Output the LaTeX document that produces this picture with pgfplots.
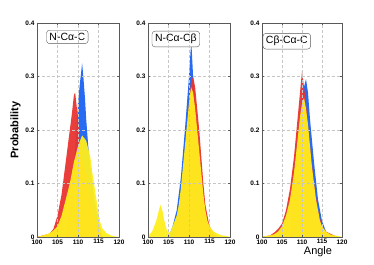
\documentclass[border=0pt]{standalone}
\usepackage{pgfplots}
\pgfplotsset{compat=1.18}
\usepackage{fontspec}
\setmainfont{Liberation Sans}
\definecolor{hred}{RGB}{232,52,48}
\definecolor{hblue}{RGB}{28,98,240}
\definecolor{hyel}{RGB}{255,238,30}
\tikzset{
  tbox/.style={draw=gray!70!black, rounded corners=3pt, fill=white, inner xsep=3pt, inner ysep=3pt, font=\fontsize{10.5}{11}\selectfont},
}
\pgfplotsset{
  hist/.style={draw=none, fill=#1, fill opacity=0.95},
  panel/.style={
    scale only axis, height=214bp, anchor=south west,
    xmin=100, xmax=120, ymin=0, ymax=0.4,
    xtick={100,105,110,115,120}, ytick={0,0.1,0.2,0.3,0.4},
    yticklabels={0,0.1,0.2,0.3,0.4},
    ticklabel style={font=\fontsize{6.5}{7}\selectfont\bfseries},
    /pgf/number format/assume math mode=true,
    xticklabel style={yshift=1pt},
    yticklabel style={xshift=1pt},
    grid=major, grid style={densely dashed, gray!45, line width=0.3pt},
    axis line style={gray!70!black, line width=0.6pt},
    tick style={gray!70!black, line width=0.4pt}, tick align=inside,
    major tick length=2pt,
    axis on top,
  },
}
\begin{document}
\begin{tikzpicture}
\useasboundingbox (0bp,0bp) rectangle (374bp,265bp);
% Panel 1
\begin{axis}[panel, at={(37bp,28bp)}, width=82bp,
  ylabel={\fontsize{11}{12}\selectfont\bfseries Probability},
  ylabel style={yshift=-2pt}]
\addplot[hist=hblue] coordinates {(107,0) (108,0.05) (108.5,0.09) (109,0.13) (109.5,0.19) (110,0.25) (110.5,0.29) (110.8,0.31) (111,0.325) (111.3,0.3) (111.7,0.26) (112,0.22) (112.5,0.17) (113,0.13) (114,0.07) (115,0.03) (116,0)} \closedcycle;
\addplot[hist=hred] coordinates {(100,0) (101,0.002) (103,0.006) (104,0.015) (105,0.04) (106,0.08) (107,0.14) (107.5,0.17) (108,0.2) (108.5,0.23) (109,0.265) (109.3,0.27) (109.6,0.25) (110,0.22) (110.3,0.2) (110.7,0.17) (111,0.15) (112,0.12) (113,0.08) (114,0.04) (115,0.015) (116,0)} \closedcycle;
\addplot[hist=hyel] coordinates {(100,0) (101,0.002) (102,0.004) (103,0.007) (104,0.012) (105,0.02) (106,0.04) (107,0.07) (108,0.1) (108.5,0.12) (109,0.14) (109.5,0.155) (110,0.17) (110.5,0.18) (111,0.19) (111.5,0.185) (112,0.18) (112.5,0.165) (113,0.15) (113.5,0.12) (114,0.095) (114.5,0.07) (115,0.045) (115.5,0.025) (116,0.015) (117,0.007) (118,0.003) (119,0.001) (120,0)} \closedcycle;
\node[tbox] at (axis description cs:0.37,0.935) {N-Cα-C};
\end{axis}
% Panel 2
\begin{axis}[panel, at={(148bp,28bp)}, width=82bp]
\addplot[hist=hblue] coordinates {(105,0) (106,0.02) (107,0.05) (108,0.11) (109,0.2) (109.5,0.25) (110,0.3) (110.4,0.35) (110.6,0.36) (111,0.3) (111.5,0.25) (112,0.2) (113,0.1) (114,0.04) (115,0.01) (116,0)} \closedcycle;
\addplot[hist=hred] coordinates {(106,0) (107,0.03) (108,0.07) (109,0.15) (110,0.25) (110.5,0.29) (111,0.3) (111.5,0.28) (112,0.24) (112.5,0.2) (113,0.15) (113.5,0.1) (114,0.06) (115,0.02) (116,0.008) (117,0)} \closedcycle;
\addplot[hist=hyel] coordinates {(100,0) (100.5,0.006) (101,0.01) (101.5,0.02) (102,0.03) (102.5,0.045) (103,0.06) (103.5,0.05) (104,0.03) (104.5,0.015) (105,0.008) (105.5,0.01) (106,0.02) (107,0.04) (107.5,0.06) (108,0.09) (108.5,0.13) (109,0.17) (109.5,0.21) (110,0.25) (110.5,0.28) (111,0.27) (111.5,0.24) (112,0.2) (112.5,0.16) (113,0.12) (113.5,0.08) (114,0.05) (114.5,0.03) (115,0.02) (116,0.01) (117,0.006) (118,0.003) (119,0.002) (120,0)} \closedcycle;
\node[tbox] at (axis description cs:0.34,0.925) {N-Cα-Cβ};
\end{axis}
% Panel 3
\begin{axis}[panel, at={(262bp,28bp)}, width=80bp]
\addplot[hist=hblue] coordinates {(107,0) (108,0.13) (109,0.2) (110,0.26) (110.5,0.28) (111,0.295) (111.5,0.27) (112,0.22) (112.5,0.18) (113,0.14) (114,0.07) (115,0.03) (116,0.01) (117,0)} \closedcycle;
\addplot[hist=hred] coordinates {(100,0) (102,0.003) (103,0.008) (104,0.015) (105,0.025) (106,0.05) (107,0.09) (108,0.15) (109,0.23) (109.5,0.27) (110,0.31) (110.5,0.28) (111,0.25) (112,0.17) (113,0.1) (114,0.05) (115,0.02) (116,0.01) (118,0.003) (119,0)} \closedcycle;
\addplot[hist=hyel] coordinates {(100,0) (101,0.002) (102,0.003) (103,0.005) (104,0.01) (105,0.02) (106,0.04) (107,0.07) (108,0.12) (108.5,0.155) (109,0.19) (109.5,0.225) (110,0.25) (110.5,0.26) (111,0.24) (111.5,0.21) (112,0.17) (112.5,0.13) (113,0.1) (113.5,0.07) (114,0.05) (114.5,0.03) (115,0.02) (116,0.01) (117,0.005) (118,0.003) (119,0.002) (120,0)} \closedcycle;
\node[tbox] at (axis description cs:0.31,0.915) {Cβ-Cα-C};
\end{axis}
\node[font=\fontsize{11}{12}\selectfont] at (318bp,13bp) {Angle};
\end{tikzpicture}
\end{document}
